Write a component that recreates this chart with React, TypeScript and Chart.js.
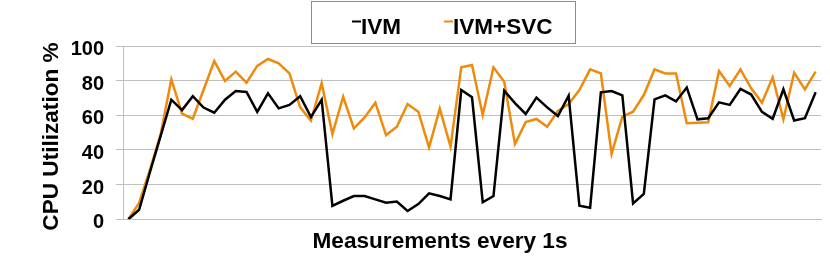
import React, { useEffect, useRef } from "react";
import { Chart, registerables } from "chart.js";

Chart.register(...registerables);

// ---- data ----
const seconds = [
  1, 2, 3, 4, 5, 6, 7, 8, 9, 10, 11, 12, 13, 14, 15, 16, 17, 18, 19, 20,
  21, 22, 23, 24, 25, 26, 27, 28, 29, 30, 31, 32, 33, 34, 35, 36, 37, 38, 39, 40,
  41, 42, 43, 44, 45, 46, 47, 48, 49, 50, 51, 52, 53, 54, 55, 56, 57, 58, 59, 60,
  61, 62, 63, 64, 65,
];

const ivm = [
  0, 5.5, 27, 48, 69, 63, 71, 64.5, 61.5, 69,
  74, 73.5, 62, 72.7, 64, 66, 71, 59, 69, 7.7,
  10.7, 13.4, 13.4, 11.5, 9.6, 10.2, 4.8, 8.8, 15, 13.4,
  11.5, 74.6, 70.4, 9.8, 13.4, 74.2, 67, 60.8, 70.2, 64.6,
  59.6, 71.3, 7.8, 6.7, 73.3, 74, 71.5, 9.2, 14.6, 69.2,
  71.5, 68, 76, 57.7, 58.3, 67.5, 66, 75.2, 72, 62,
  58, 75, 57, 58.3, 73.3,
];

const ivmSvc = [
  0, 9.5, 28.5, 49, 80.8, 61, 58, 74.6, 91.3, 79.8,
  85.2, 78.8, 88.5, 92.5, 90, 84.2, 64.6, 57, 78.5, 49.2,
  70.7, 52.5, 58.8, 67.3, 48.6, 53.4, 66.5, 62.1, 41.5, 63.8,
  41.9, 87.7, 89, 60.2, 87.7, 79.4, 43.4, 56.1, 57.9, 53.4,
  62.5, 66.5, 74.6, 86.5, 84.2, 37.7, 59.2, 62.1, 71.7, 86.5,
  84.2, 84.2, 55.4, 55.7, 56, 85.6, 76.9, 86.5, 75.6, 67.3,
  81.9, 57.7, 84.6, 75, 85.2,
];

const seriesNames = ["IVM", "IVM+SVC"];
const seriesColors = ["#000000", "#EE8A0C"];
const yTickStep = 20;
const yMin = 0;
const yMax = 100;
const xTitle = "Measurements every 1s";
const yTitle = "CPU Utilization %";

const FONT = '"Liberation Sans", Arial, Helvetica, sans-serif';
const GRID = "#BFBFBF";

const annotations = {
  id: "annotations",
  afterDraw(chart: any) {
    const ctx = chart.ctx as CanvasRenderingContext2D;
    ctx.save();
    // boxed legend
    ctx.strokeStyle = "#8C8C8C";
    ctx.lineWidth = 1;
    ctx.strokeRect(311.5, 1.5, 264, 42);
    ctx.font = `bold 22.5px ${FONT}`;
    ctx.textBaseline = "alphabetic";
    ctx.textAlign = "left";
    let x = 352;
    chart.data.datasets.forEach((ds: any) => {
      ctx.fillStyle = ds.borderColor;
      ctx.fillRect(x, 20.5, 9, 2);
      ctx.fillStyle = "#000000";
      ctx.fillText(ds.label, x + 9, 33.5);
      x += 9 + ctx.measureText(ds.label).width + 43;
    });
    // axis titles
    ctx.font = `bold 22.6px ${FONT}`;
    ctx.fillStyle = "#000000";
    ctx.textAlign = "center";
    ctx.fillText(xTitle, 440, 247.7);
    ctx.translate(58, 136.5);
    ctx.rotate(-Math.PI / 2);
    ctx.fillText(yTitle, 0, 0);
    ctx.restore();
  },
};

export default function App() {
  const ref = useRef<HTMLCanvasElement>(null);

  useEffect(() => {
    document.body.style.margin = "0";
    const chart = new Chart(ref.current as HTMLCanvasElement, {
      type: "line",
      data: {
        labels: seconds,
        datasets: [
          {
            label: seriesNames[0],
            data: ivm,
            borderColor: seriesColors[0],
            backgroundColor: seriesColors[0],
            borderWidth: 2.5,
            pointRadius: 0,
            tension: 0,
            fill: false,
          },
          {
            label: seriesNames[1],
            data: ivmSvc,
            borderColor: seriesColors[1],
            backgroundColor: seriesColors[1],
            borderWidth: 2.5,
            pointRadius: 0,
            tension: 0,
            fill: false,
          },
        ],
      },
      options: {
        responsive: false,
        animation: false,
        devicePixelRatio: 1,
        layout: { padding: { top: 46, right: 9, left: 0, bottom: 0 } },
        plugins: {
          legend: { display: false },
          title: { display: false },
          tooltip: { enabled: false },
        },
        scales: {
          x: {
            type: "category",
            offset: true,
            grid: { display: false },
            ticks: { display: false },
            border: { display: true, color: GRID, width: 1 },
            title: { display: false },
            afterFit(scale: any) {
              scale.height = 36.7;
            },
          },
          y: {
            min: yMin,
            max: yMax,
            ticks: {
              stepSize: yTickStep,
              color: "#000000",
              font: { family: FONT, size: 20, weight: "bold" },
              padding: 12,
              labelOffset: 3.5,
            },
            grid: { color: GRID, tickLength: 7, drawTicks: true, lineWidth: 1 },
            border: { display: true, color: GRID, width: 1 },
            title: { display: false },
            afterFit(scale: any) {
              scale.width = 123;
            },
          },
        },
      } as any,
      plugins: [annotations],
    });
    return () => chart.destroy();
  }, []);

  return (
    <div style={{ width: 830, height: 256 }}>
      <canvas ref={ref} width={830} height={256} style={{ display: "block" }} />
    </div>
  );
}
